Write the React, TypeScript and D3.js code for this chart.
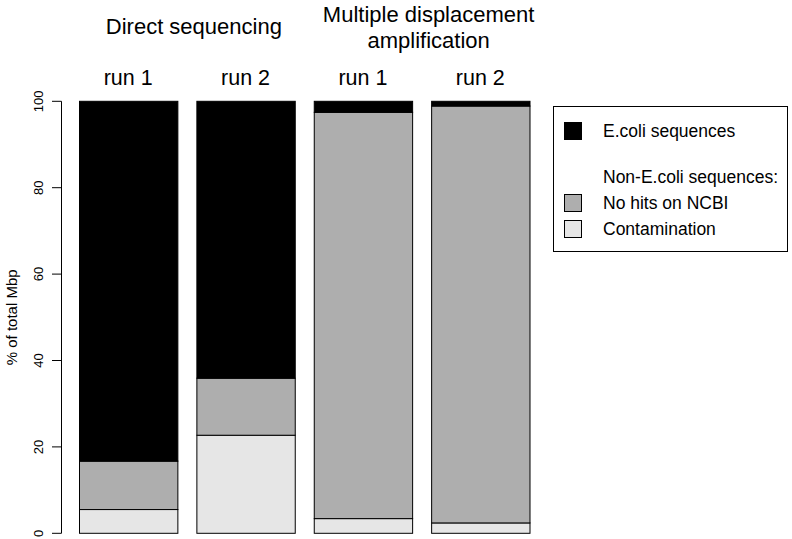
import React from "react";
import * as d3 from "d3";

const runs = ["run 1", "run 2", "run 1", "run 2"];
const contamination = [5.5, 22.7, 3.4, 2.4];
const noHits = [11.2, 13.2, 94.05, 96.5];
const ecoli = [83.3, 64.1, 2.55, 1.1];
const yTicks = [0, 20, 40, 60, 80, 100];
const groupTitles = [["Direct sequencing"], ["Multiple displacement", "amplification"]];
const legendItems = ["E.coli sequences", "Non-E.coli sequences:", "No hits on NCBI", "Contamination"];

const colors = { ecoli: "#000000", noHits: "#aeaeae", contamination: "#e6e6e6" };
const font = "Liberation Sans, Arial, Helvetica, sans-serif";

export default function App() {
  const W = 792, H = 539;
  const y = d3.scaleLinear().domain([0, 100]).range([533.3, 101.3]);
  const x = d3.scaleBand<number>().domain([0, 1, 2, 3]).range([79, 529.5]).paddingInner(0.162).paddingOuter(0);
  const bw = x.bandwidth();
  const series = runs.map((r, i) => {
    const segs = [
      { v: contamination[i], c: colors.contamination },
      { v: noHits[i], c: colors.noHits },
      { v: ecoli[i], c: colors.ecoli },
    ];
    let acc = 0;
    return segs.map((s) => {
      const y0 = acc;
      acc += s.v;
      return { y0, y1: Math.min(acc, 100), c: s.c };
    });
  });
  const cx = (i: number) => (x(i) as number) + bw / 2;
  const titleShift = 7;
  return (
    <svg width={W} height={H} style={{ position: "absolute", left: 0, top: 0, background: "#fff" }} fontFamily={font}>
      <rect x={0} y={0} width={W} height={H} fill="#fff" />
      {/* y axis */}
      <line x1={61.5} x2={61.5} y1={y(0)} y2={y(100)} stroke="#000" strokeWidth={1} />
      {yTicks.map((t) => (
        <g key={t}>
          <line x1={52} x2={61.5} y1={y(t)} y2={y(t)} stroke="#000" />
          <text transform={`translate(42.5,${y(t)}) rotate(-90)`} textAnchor="middle" fontSize={13} fill="#000">
            {t}
          </text>
        </g>
      ))}
      <text transform={`translate(17,${y(50)}) rotate(-90)`} textAnchor="middle" fontSize={15} fill="#000">
        % of total Mbp
      </text>
      {/* bars */}
      {series.map((segs, i) =>
        segs.map((s, j) => (
          <rect
            key={`${i}-${j}`}
            x={(x(i) as number) + 0.5}
            y={y(s.y1)}
            width={bw}
            height={y(s.y0) - y(s.y1)}
            fill={s.c}
            stroke="#000"
            strokeWidth={1}
          />
        ))
      )}
      {/* run labels */}
      {runs.map((r, i) => (
        <text key={i} x={cx(i)} y={85} textAnchor="middle" fontSize={21.5} fill="#000">
          {r}
        </text>
      ))}
      {/* group titles */}
      <text x={(cx(0) + cx(1)) / 2 + titleShift} y={34} textAnchor="middle" fontSize={22} fill="#000">
        {groupTitles[0][0]}
      </text>
      {groupTitles[1].map((t, k) => (
        <text key={k} x={(cx(2) + cx(3)) / 2 + titleShift} y={22 + k * 26} textAnchor="middle" fontSize={22} fill="#000">
          {t}
        </text>
      ))}
      {/* legend */}
      <rect x={553.5} y={106.5} width={234} height={145} fill="#fff" stroke="#000" strokeWidth={1} />
      <rect x={564.5} y={122.5} width={17} height={17} fill={colors.ecoli} stroke="#000" />
      <rect x={564.5} y={194.5} width={17} height={17} fill={colors.noHits} stroke="#000" />
      <rect x={564.5} y={220.5} width={17} height={17} fill={colors.contamination} stroke="#000" />
      {[131, 177, 203, 229].map((yy, k) => (
        <text key={k} x={603} y={yy} dominantBaseline="central" fontSize={17.5} fill="#000">
          {legendItems[k]}
        </text>
      ))}
    </svg>
  );
}
